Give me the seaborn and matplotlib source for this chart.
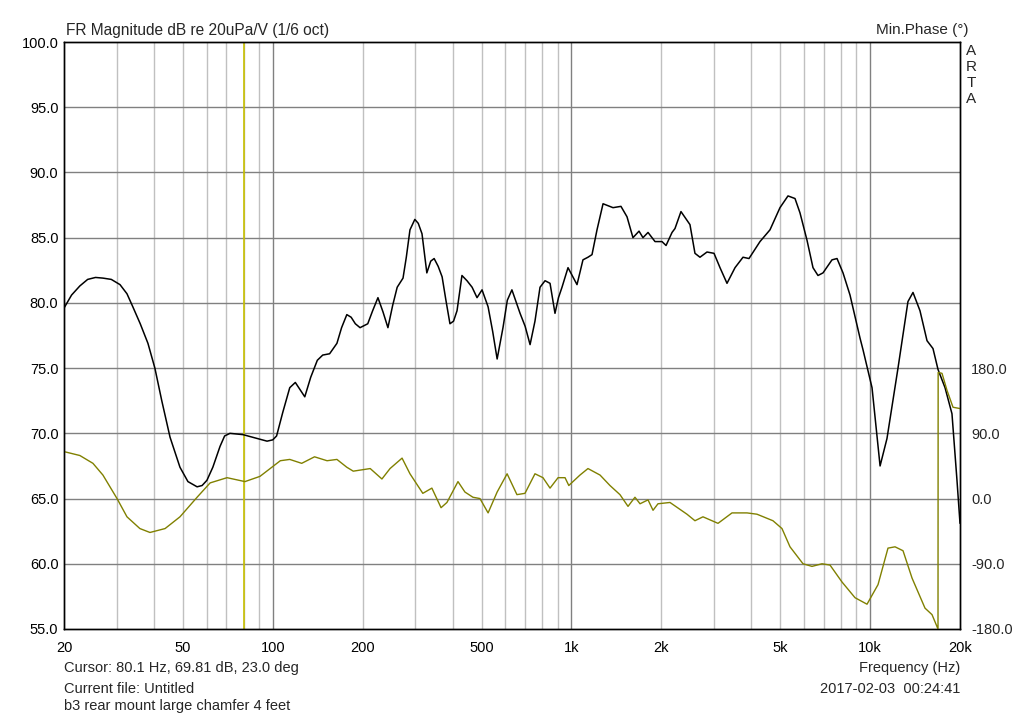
import numpy as np
import pandas as pd
import matplotlib
matplotlib.use("Agg")
import matplotlib.pyplot as plt
import seaborn as sns

# magnitude (dB re 20uPa/V, 1/6 oct)
mag_freq = [20, 21.2, 22.6, 24.0, 25.5, 27.0, 28.8, 30.8, 32.5, 34.0, 36.0, 38.2, 40.3, 42.5,
            45.3, 48.9, 52.0, 55.8, 58.0, 60.2, 63.0, 66.6, 69.0, 71.9,
            79.5, 95.7, 100, 103, 108, 114, 119, 123, 128, 134, 141, 147, 155, 164, 170, 177,
            183, 189, 196, 208, 216, 225, 234,
            243, 252, 261, 273, 280, 288, 299, 307, 316, 328, 338, 347, 358, 369, 380, 392, 403,
            414, 430, 447, 465, 483, 502, 526, 545,
            564, 590, 610, 632, 673, 700, 727, 755, 785, 816, 848, 881, 905, 930, 974, 1044, 1093,
            1136, 1172, 1218, 1276, 1378, 1465, 1535, 1607, 1684, 1736, 1805, 1905, 2010, 2074,
            2172, 2222, 2327, 2494, 2592, 2694, 2844, 3002, 3144, 3318, 3530, 3754, 3931, 4279,
            4622, 4992, 5310, 5605, 5825, 6149, 6439, 6692, 6956, 7455, 7750, 8116, 8566,
            9253, 9470, 10150, 10800, 11390, 12400, 13390, 13920, 14690, 15510, 16240,
            16880, 17820, 18800, 19540, 20000]
mag_db = [79.6, 80.6, 81.3, 81.8, 81.95, 81.9, 81.8, 81.4, 80.7, 79.7, 78.4, 76.9, 75.0, 72.5,
          69.7, 67.4, 66.3, 65.9, 66.0, 66.4, 67.4, 69.0, 69.8, 70.0,
          69.9, 69.4, 69.5, 69.8, 71.6, 73.5, 73.9, 73.4, 72.8, 74.3, 75.6, 76.0, 76.1, 76.9, 78.1, 79.1,
          78.9, 78.4, 78.1, 78.4, 79.4, 80.4, 79.3,
          78.1, 79.8, 81.2, 81.9, 83.5, 85.6, 86.4, 86.1, 85.3, 82.3, 83.2, 83.4, 82.8, 82.0, 80.2, 78.4, 78.6,
          79.4, 82.1, 81.7, 81.2, 80.4, 81.0, 79.7, 77.8,
          75.7, 78.1, 80.2, 81.0, 79.2, 78.2, 76.8, 78.6, 81.2, 81.7, 81.5, 79.2, 80.4, 81.2, 82.7, 81.4, 83.3,
          83.5, 83.7, 85.6, 87.6, 87.3, 87.4, 86.6, 85.0, 85.5, 85.0, 85.4, 84.7, 84.7, 84.4,
          85.4, 85.7, 87.0, 86.0, 83.8, 83.5, 83.9, 83.8, 82.7, 81.5, 82.7, 83.5, 83.4, 84.7,
          85.6, 87.3, 88.2, 88.0, 86.9, 84.8, 82.7, 82.1, 82.3, 83.3, 83.4, 82.3, 80.6,
          77.3, 76.4, 73.5, 67.5, 69.6, 75.0, 80.1, 80.8, 79.4, 77.1, 76.5,
          74.9, 73.5, 71.5, 66.4, 63.1]

# minimum phase (deg), wraps at -180 near 17 kHz
ph_freq = [20, 22.6, 25.0, 27.0, 30.1, 32.5, 35.9, 38.8, 43.6, 48.9, 55.8, 61.7, 70.3, 80.7,
           90.6, 106, 114, 125, 138, 152, 164, 177, 186, 212, 232, 247, 271, 288, 318, 341,
           366, 383, 417, 440, 468, 494, 526, 564, 609, 657, 699, 755, 803, 848, 902, 952,
           980, 1012, 1068, 1136, 1247, 1346, 1454, 1547, 1632, 1697, 1805, 1876, 1949, 2138,
           2437, 2592, 2757, 3096, 3449, 3871, 4181, 4729, 5070, 5393, 5962, 6390, 6902,
           7342, 8054, 8902, 9766, 10630, 11480, 12120, 12890, 13820, 15270, 16120, 16880,
           16900, 17410, 18090, 18950, 20000]
ph_deg = [64.8, 59.4, 48.6, 32.4, 0.0, -25.2, -41.4, -46.8, -41.4, -25.2, 1.8, 21.6, 28.8, 23.4,
          30.6, 52.2, 54.0, 48.6, 57.6, 52.2, 54.0, 43.2, 37.8, 41.4, 27.0, 41.4, 55.8, 34.2, 7.2, 14.4,
          -12.6, -5.4, 23.4, 9.0, 1.8, 0.0, -19.8, 9.0, 34.2, 5.4, 7.2, 34.2, 28.8, 14.4, 28.8, 28.8,
          18.0, 23.4, 32.4, 41.4, 32.4, 18.0, 5.4, -10.8, 1.8, -7.2, -1.8, -16.2, -7.2, -5.4,
          -21.6, -30.6, -25.2, -34.2, -19.8, -19.8, -21.6, -30.6, -41.4, -66.6, -90.0, -93.6, -90.0,
          -91.8, -115.2, -136.8, -145.8, -118.8, -68.4, -66.6, -72.0, -109.8, -151.2, -160.2, -180.0,
          174.0, 172.8, 149.4, 126.0, 124.2]

cursor_hz = 80.1
x_ticks = [20, 50, 100, 200, 500, 1000, 2000, 5000, 10000, 20000]
x_labels = ["20", "50", "100", "200", "500", "1k", "2k", "5k", "10k", "20k"]
db_ticks = np.arange(55, 100.1, 5)
ph_ticks = [-180, -90, 0, 90, 180]

sns.set_style("white")
plt.rcParams["font.family"] = ["Liberation Sans", "DejaVu Sans"]
plt.rcParams["font.size"] = 10.5

fig = plt.figure(figsize=(10.24, 7.18), dpi=100)
ax = fig.add_axes([64 / 1024, 89 / 718, 896 / 1024, 587 / 718])

ax.set_xscale("log")
ax.set_xlim(20, 20000)
ax.set_ylim(55, 100)

# grid: light minor verticals, darker decades and horizontals
minor = [m * 10 ** e for e in range(1, 5) for m in range(2, 10) if 20 < m * 10 ** e < 20000]
for f in minor:
    ax.axvline(f, color="#c0c0c0", lw=1, zorder=0)
for f in [100, 1000, 10000]:
    ax.axvline(f, color="#808080", lw=1, zorder=0)
for d in db_ticks[1:-1]:
    ax.axhline(d, color="#808080", lw=1, zorder=0)

ax.axvline(cursor_hz, color="#c8c000", lw=1.2, zorder=1)

mag = pd.DataFrame({"freq": mag_freq, "db": mag_db})
sns.lineplot(data=mag, x="freq", y="db", ax=ax, color="black", lw=1.1,
             sort=False, estimator=None, zorder=3)

ax2 = ax.twinx()
ax2.set_ylim(-180, 630)
ph = pd.DataFrame({"freq": ph_freq, "deg": ph_deg})
sns.lineplot(data=ph, x="freq", y="deg", ax=ax2, color="#808000", lw=1.0,
             sort=False, estimator=None, zorder=2)
ax2.set_xscale("log")
ax2.set_xlim(20, 20000)

ax.set_xticks(x_ticks)
ax.set_xticklabels(x_labels)
ax.xaxis.set_minor_locator(matplotlib.ticker.NullLocator())
ax.set_yticks(db_ticks)
ax.set_yticklabels([f"{v:.1f}" for v in db_ticks])
ax.tick_params(length=0, pad=4, labelsize=10.5, colors="black")
ax.tick_params(axis="x", pad=9)
ax2.set_yticks(ph_ticks)
ax2.set_yticklabels([f"{v:.1f}" for v in ph_ticks])
ax2.tick_params(length=0, pad=8, labelsize=10.5)
ax.set_xlabel("")
ax.set_ylabel("")
ax2.set_ylabel("")
for a in (ax, ax2):
    for s in a.spines.values():
        s.set_color("black")
        s.set_linewidth(1)

fig.text(66 / 1024, 1 - 30 / 718, "FR Magnitude dB re 20uPa/V (1/6 oct)", fontsize=11.2, va="center")
fig.text(968 / 1024, 1 - 30 / 718, "Min.Phase (°)", fontsize=11, va="center", ha="right")
for i, ch in enumerate("ARTA"):
    fig.text(971 / 1024, 1 - (51 + 16 * i) / 718, ch, fontsize=11, va="center", ha="center")
fig.text(64 / 1024, 1 - 668 / 718, "Cursor: 80.1 Hz, 69.81 dB, 23.0 deg", fontsize=10.5, va="center")
fig.text(64 / 1024, 1 - 689 / 718, "Current file: Untitled", fontsize=10.5, va="center")
fig.text(64 / 1024, 1 - 706 / 718, "b3 rear mount large chamfer 4 feet", fontsize=10.5, va="center")
fig.text(960 / 1024, 1 - 668 / 718, "Frequency (Hz)", fontsize=10.5, va="center", ha="right")
fig.text(960 / 1024, 1 - 689 / 718, "2017-02-03  00:24:41", fontsize=10.5, va="center", ha="right")

plt.savefig("out.png", dpi=100, facecolor="white")
